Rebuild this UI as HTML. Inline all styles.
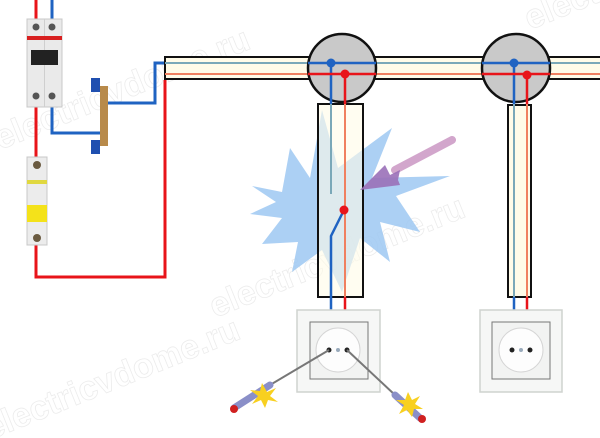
<!DOCTYPE html>
<html><head><style>
html,body{margin:0;padding:0;background:#fff;}
svg{display:block;}
</style></head><body>
<svg width="600" height="438" viewBox="0 0 600 438" xmlns="http://www.w3.org/2000/svg">
<rect width="600" height="438" fill="#fff"/>
<!-- watermarks -->
<g font-family="Liberation Sans, sans-serif" font-size="34" font-weight="bold" fill="#fff" stroke="#ececec" stroke-width="0.8">
<text x="0" y="150" transform="rotate(-22 0 150)">electricvdome.ru</text>
<text x="215" y="318" transform="rotate(-22 215 318)">electricvdome.ru</text>
<text x="-10" y="440" transform="rotate(-22 -10 440)">electricvdome.ru</text>
<text x="530" y="30" transform="rotate(-22 530 30)">electric</text>
</g>
<!-- starburst -->
<polygon points="252,186 282,192 290,148 310,178 322,110 338,168 392,128 372,178 450,176 396,196 420,232 380,222 390,262 360,238 342,292 322,250 292,272 298,242 262,244 282,218 250,214 276,202" fill="#9ec8f2" opacity="0.85"/>
<!-- breaker wiring -->
<g fill="none" stroke-width="3">
<path d="M36,0V19 M36,107V157 M36,245V277H165V80" stroke="#e8141a"/>
<path d="M52,0V19 M52,107V133H100 M106,103H155V63H165" stroke="#1f63c2"/>
</g>
<!-- 2-pole breaker -->
<rect x="27" y="19" width="35" height="88" fill="#eaeaea" stroke="#c8c8c8"/>
<line x1="44.5" y1="19" x2="44.5" y2="107" stroke="#cfcfcf"/>
<rect x="27" y="36" width="35" height="4" fill="#d82020"/>
<rect x="31" y="50" width="27" height="15" fill="#222"/>
<circle cx="36" cy="27" r="3.5" fill="#555"/><circle cx="52" cy="27" r="3.5" fill="#555"/>
<circle cx="36" cy="96" r="3.5" fill="#555"/><circle cx="52" cy="96" r="3.5" fill="#555"/>
<!-- 1-pole breaker -->
<rect x="27" y="157" width="20" height="88" fill="#ececec" stroke="#c8c8c8"/>
<circle cx="37" cy="165" r="4" fill="#6a5a40"/>
<rect x="27" y="180" width="20" height="4" fill="#e0d840"/>
<rect x="27" y="205" width="20" height="17" fill="#f4e21a"/>
<circle cx="37" cy="238" r="4" fill="#6a5a40"/>
<!-- bus bar -->
<rect x="100" y="86" width="8" height="60" fill="#b88a4a"/>
<rect x="91" y="78" width="9" height="14" fill="#1f4fb0"/>
<rect x="91" y="140" width="9" height="14" fill="#1f4fb0"/>
<!-- horizontal cable -->
<rect x="165" y="57" width="440" height="22" fill="#fffbe8" stroke="#111" stroke-width="2"/>
<line x1="165" y1="63" x2="600" y2="63" stroke="#7aa8b8" stroke-width="2"/>
<line x1="165" y1="74" x2="600" y2="74" stroke="#f08060" stroke-width="2"/>
<!-- vertical cable 1 -->
<rect x="318" y="104" width="45" height="193" fill="#fffbe8" fill-opacity="0.6" stroke="#111" stroke-width="2"/>
<line x1="331" y1="100" x2="331" y2="194" stroke="#7aa8b8" stroke-width="2"/>
<line x1="345" y1="100" x2="345" y2="297" stroke="#f08060" stroke-width="2"/>
<path d="M344,210 L331,236 V312" stroke="#1f63c2" stroke-width="2.5" fill="none"/>
<line x1="345" y1="297" x2="345" y2="312" stroke="#e8141a" stroke-width="2.5"/>
<circle cx="344" cy="210" r="4.5" fill="#e8141a"/>
<!-- vertical cable 2 -->
<rect x="508" y="105" width="23" height="192" fill="#fffbe8" stroke="#111" stroke-width="2"/>
<line x1="514" y1="100" x2="514" y2="297" stroke="#7aa8b8" stroke-width="2"/>
<line x1="527" y1="100" x2="527" y2="297" stroke="#f08060" stroke-width="2"/>
<line x1="514" y1="297" x2="514" y2="312" stroke="#1f63c2" stroke-width="2.5"/>
<line x1="527" y1="297" x2="527" y2="312" stroke="#e8141a" stroke-width="2.5"/>
<!-- junction boxes -->
<g stroke-width="2.5">
<circle cx="342" cy="68" r="34" fill="#c9c9c9" stroke="#111"/>
<path d="M308,63H376 M331,63V104" stroke="#1f63c2" fill="none"/>
<path d="M308,74H376 M345,74V104" stroke="#e8141a" fill="none"/>
<circle cx="516" cy="68" r="34" fill="#c9c9c9" stroke="#111"/>
<path d="M482,63H550 M514,63V104" stroke="#1f63c2" fill="none"/>
<path d="M482,74H550 M527,74V104" stroke="#e8141a" fill="none"/>
</g>
<circle cx="331" cy="63" r="4.5" fill="#1f63c2"/><circle cx="345" cy="74" r="4.5" fill="#e8141a"/>
<circle cx="514" cy="63" r="4.5" fill="#1f63c2"/><circle cx="527" cy="75" r="4.5" fill="#e8141a"/>
<!-- arrow -->
<line x1="452" y1="140" x2="395" y2="170" stroke="#c890c0" stroke-width="8" stroke-linecap="round" opacity="0.8"/>
<polygon points="360,190 385,165 390,175 400,170 398,180 400,185" fill="#9a70b8" opacity="0.9"/>
<!-- sockets -->
<g>
<rect x="297" y="310" width="83" height="82" fill="#f6f7f6" stroke="#cfd3cf" stroke-width="1.5"/>
<rect x="310" y="322" width="58" height="57" fill="#f2f3f2" stroke="#777"/>
<circle cx="338" cy="350" r="22" fill="#fdfdfd" stroke="#d5d5d5"/>
<circle cx="329" cy="350" r="2.5" fill="#222"/><circle cx="347" cy="350" r="2.5" fill="#222"/>
<circle cx="338" cy="350" r="2" fill="#9ab"/>
<rect x="480" y="310" width="82" height="82" fill="#f6f7f6" stroke="#cfd3cf" stroke-width="1.5"/>
<rect x="492" y="322" width="58" height="57" fill="#f2f3f2" stroke="#777"/>
<circle cx="521" cy="350" r="22" fill="#fdfdfd" stroke="#d5d5d5"/>
<circle cx="512" cy="350" r="2.5" fill="#222"/><circle cx="530" cy="350" r="2.5" fill="#222"/>
<circle cx="521" cy="350" r="2" fill="#9ab"/>
</g>
<!-- screwdrivers -->
<line x1="329" y1="350" x2="270" y2="385" stroke="#777" stroke-width="2"/>
<line x1="270" y1="385" x2="234" y2="408" stroke="#8a8fc8" stroke-width="7" stroke-linecap="round"/>
<circle cx="234" cy="409" r="4" fill="#d02020"/>
<polygon points="262,383 267,392 276,388 270,396 278,402 268,400 265,408 261,400 252,404 258,396 250,390 260,391" fill="#f8d020"/>
<line x1="347" y1="350" x2="395" y2="395" stroke="#777" stroke-width="2"/>
<line x1="395" y1="395" x2="420" y2="418" stroke="#8a8fc8" stroke-width="7" stroke-linecap="round"/>
<circle cx="422" cy="419" r="4" fill="#d02020"/>
<polygon points="408,392 412,400 420,396 415,404 423,409 414,409 412,417 407,410 399,414 404,405 396,400 405,400" fill="#f8d020"/>
</svg>
</body></html>
